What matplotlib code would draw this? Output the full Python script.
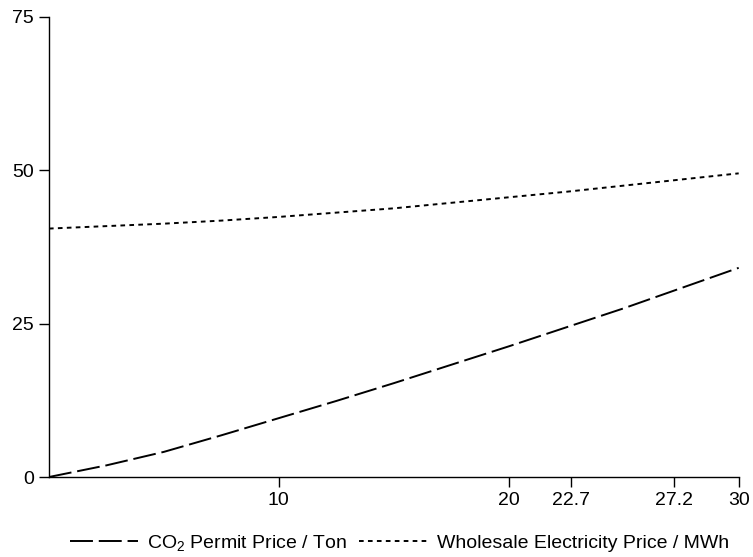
""" Permit price and wholesale electricity price over the horizon. """

import matplotlib
matplotlib.use('Agg')
import matplotlib.pyplot as plt

plt.rcParams['font.family'] = ['Liberation Sans', 'DejaVu Sans']
plt.rcParams['mathtext.fontset'] = 'custom'
plt.rcParams['mathtext.rm'] = 'Liberation Sans'
plt.rcParams['mathtext.it'] = 'Liberation Sans'

# Values
years = [0, 2.5, 5, 7.5, 10, 12.5, 15, 17.5, 20, 22.5, 25, 27.5, 30]
co2_price = [0.0, 1.9, 4.1, 6.8, 9.6, 12.4, 15.3, 18.3, 21.3, 24.4, 27.5,
             30.8, 34.1]
elec_price = [40.5, 40.9, 41.3, 41.8, 42.4, 43.1, 43.8, 44.7, 45.6, 46.5,
              47.5, 48.5, 49.5]

x_ticks = [10, 20, 22.7, 27.2, 30]
x_tick_labels = ['10', '20', '22.7', '27.2', '30']
y_ticks = [0, 25, 50, 75]

labels = [r'CO$_2$ Permit Price / Ton', 'Wholesale Electricity Price / MWh']


def main():
    fig = plt.figure(figsize=(7.53, 5.57), dpi=100)
    ax = fig.add_axes([0.065, 0.1436, 0.916, 0.826])

    # Long dash for the permit price, short dash for electricity
    l1, = ax.plot(years, co2_price, color='black', lw=1.4, dashes=(11.8, 3))
    l2, = ax.plot(years, elec_price, color='black', lw=1.4, dashes=(2.4, 2.2))

    ax.set_xlim(0, 30)
    ax.set_ylim(0, 75)
    ax.set_xticks(x_ticks)
    ax.set_xticklabels(x_tick_labels)
    ax.set_yticks(y_ticks)

    for side in ['top', 'right']:
        ax.spines[side].set_visible(False)
    for side in ['left', 'bottom']:
        ax.spines[side].set_linewidth(1.0)

    ax.tick_params(direction='out', length=7, width=1.0, labelsize=14, pad=4)

    fig.legend([l1, l2], labels, loc='center', bbox_to_anchor=(0.53, 0.025),
               ncol=2, frameon=False, fontsize=14, handlelength=3.5,
               handletextpad=0.5, columnspacing=0.6, borderaxespad=0)

    fig.savefig('out.png', dpi=100)


if __name__ == '__main__':
    main()
